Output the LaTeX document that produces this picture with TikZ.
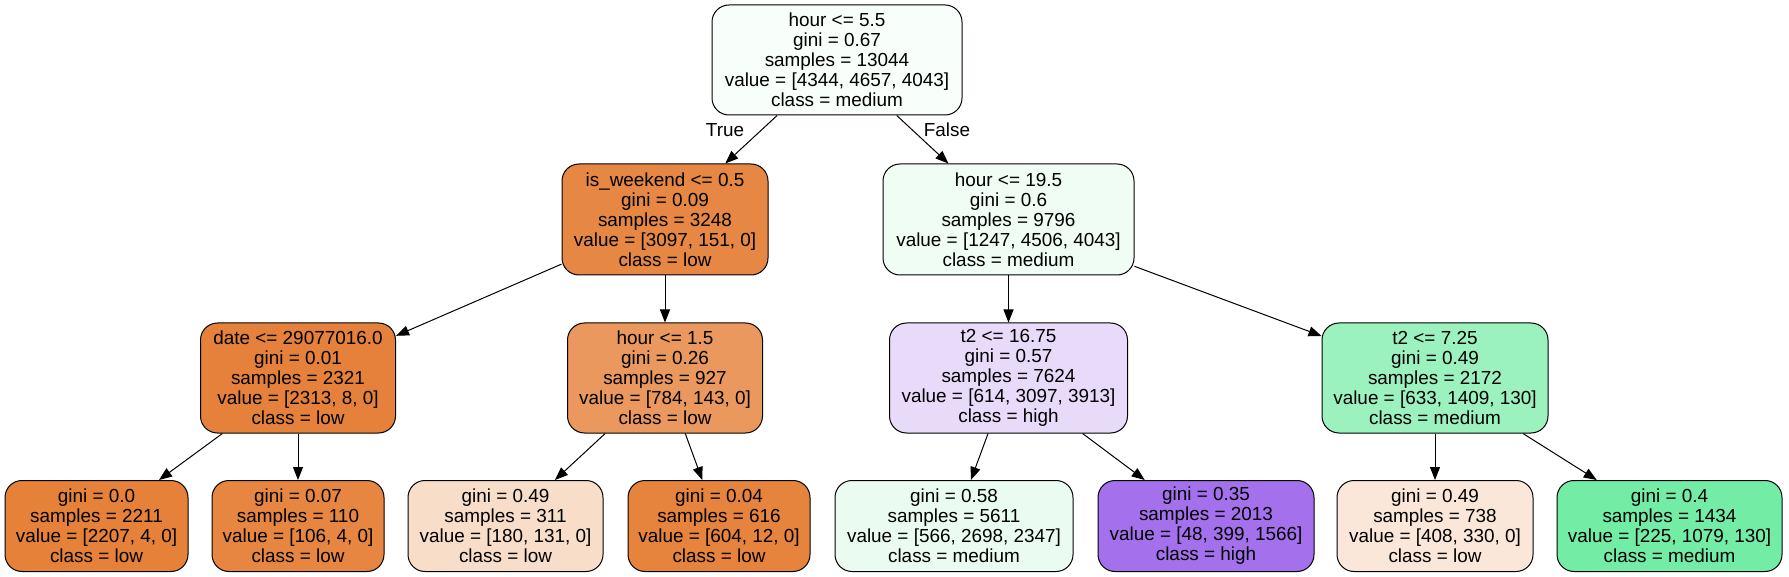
\documentclass[tikz,border=0pt]{standalone}
\usepackage{fontspec}
\setmainfont{Liberation Sans}
\usetikzlibrary{arrows.meta}
\definecolor{cRoot}{RGB}{248,254,250}
\definecolor{cIsw}{RGB}{230,135,67}
\definecolor{cHnt}{RGB}{239,253,245}
\definecolor{cDate}{RGB}{229,129,58}
\definecolor{cHone}{RGB}{234,152,93}
\definecolor{cTa}{RGB}{232,219,250}
\definecolor{cTb}{RGB}{155,242,191}
\definecolor{cLa}{RGB}{229,129,57}
\definecolor{cLb}{RGB}{230,134,64}
\definecolor{cLc}{RGB}{248,221,201}
\definecolor{cLd}{RGB}{230,131,61}
\definecolor{cLe}{RGB}{234,252,241}
\definecolor{cLf}{RGB}{164,112,236}
\definecolor{cLg}{RGB}{250,231,217}
\definecolor{cLh}{RGB}{115,237,166}
\begin{document}
\begin{tikzpicture}[x=1pt,y=-1pt,
  box/.style={draw=black, line width=1pt, rounded corners=17pt, align=center,
    inner sep=0pt, font=\fontsize{18.9}{20}\selectfont},
  edge/.style={draw=black, line width=1pt, -{Triangle[length=13pt,width=10pt]}},
  lbl/.style={font=\fontsize{18.9}{20}\selectfont, inner sep=0pt}]
\fill[white] (0,0) rectangle (1789,577);
\useasboundingbox (0,0) rectangle (1789,577);
% root
\node[box, fill=cRoot, minimum width=250pt, minimum height=110pt] (root) at (837,60)
  {hour <= 5.5\\gini = 0.67\\samples = 13044\\value = [4344, 4657, 4043]\\class = medium};
% level 1
\node[box, fill=cIsw, minimum width=206pt, minimum height=111pt] (isw) at (665,219.5)
  {is\_weekend <= 0.5\\gini = 0.09\\samples = 3248\\value = [3097, 151, 0]\\class = low};
\node[box, fill=cHnt, minimum width=251pt, minimum height=111pt] (hnt) at (1008.5,219.5)
  {hour <= 19.5\\gini = 0.6\\samples = 9796\\value = [1247, 4506, 4043]\\class = medium};
% level 2
\node[box, fill=cDate, minimum width=195pt, minimum height=110pt] (date) at (298,378)
  {date <= 29077016.0\\gini = 0.01\\samples = 2321\\value = [2313, 8, 0]\\class = low};
\node[box, fill=cHone, minimum width=195pt, minimum height=110pt] (hone) at (665,378)
  {hour <= 1.5\\gini = 0.26\\samples = 927\\value = [784, 143, 0]\\class = low};
\node[box, fill=cTa, minimum width=238pt, minimum height=110pt] (ta) at (1008.5,378)
  {t2 <= 16.75\\gini = 0.57\\samples = 7624\\value = [614, 3097, 3913]\\class = high};
\node[box, fill=cTb, minimum width=226pt, minimum height=110pt] (tb) at (1435,378)
  {t2 <= 7.25\\gini = 0.49\\samples = 2172\\value = [633, 1409, 130]\\class = medium};
% level 3
\node[box, fill=cLa, minimum width=183pt, minimum height=91pt] (la) at (96.5,526)
  {gini = 0.0\\samples = 2211\\value = [2207, 4, 0]\\class = low};
\node[box, fill=cLb, minimum width=172pt, minimum height=91pt] (lb) at (298,526)
  {gini = 0.07\\samples = 110\\value = [106, 4, 0]\\class = low};
\node[box, fill=cLc, minimum width=195pt, minimum height=91pt] (lc) at (505.5,526)
  {gini = 0.49\\samples = 311\\value = [180, 131, 0]\\class = low};
\node[box, fill=cLd, minimum width=182pt, minimum height=91pt] (ld) at (719,526)
  {gini = 0.04\\samples = 616\\value = [604, 12, 0]\\class = low};
\node[box, fill=cLe, minimum width=238pt, minimum height=91pt] (le) at (954,526)
  {gini = 0.58\\samples = 5611\\value = [566, 2698, 2347]\\class = medium};
\node[box, fill=cLf, minimum width=216pt, minimum height=91pt] (lf) at (1206,526)
  {gini = 0.35\\samples = 2013\\value = [48, 399, 1566]\\class = high};
\node[box, fill=cLg, minimum width=196pt, minimum height=91pt] (lg) at (1435,526)
  {gini = 0.49\\samples = 738\\value = [408, 330, 0]\\class = low};
\node[box, fill=cLh, minimum width=225pt, minimum height=91pt] (lh) at (1669.5,526)
  {gini = 0.4\\samples = 1434\\value = [225, 1079, 130]\\class = medium};
% edges
\draw[edge] (root) -- (isw);
\draw[edge] (root) -- (hnt);
\draw[edge] (isw) -- (date);
\draw[edge] (isw) -- (hone);
\draw[edge] (hnt) -- (ta);
\draw[edge] (hnt) -- (tb);
\draw[edge] (date) -- (la);
\draw[edge] (date) -- (lb);
\draw[edge] (hone) -- (lc);
\draw[edge] (hone) -- (ld);
\draw[edge] (ta) -- (le);
\draw[edge] (ta) -- (lf);
\draw[edge] (tb) -- (lg);
\draw[edge] (tb) -- (lh);
% edge labels
\node[lbl] (ltrue) at (725,130) {True};
\node[lbl] (lfalse) at (947,130) {False};
\end{tikzpicture}
\end{document}
